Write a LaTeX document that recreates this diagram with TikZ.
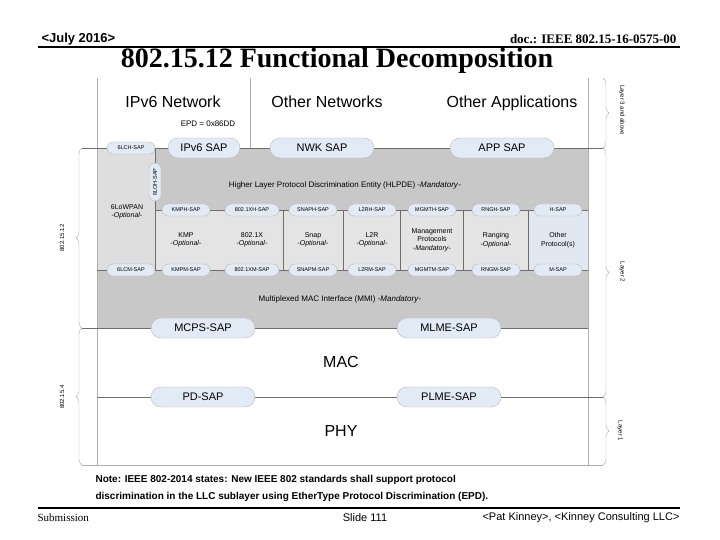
\documentclass[tikz,border=0pt]{standalone}
\usepackage{fontspec}
\setmainfont{Liberation Serif}
\setsansfont{Liberation Sans}
\usetikzlibrary{shapes.misc,decorations.pathreplacing,positioning}
\definecolor{layergray}{RGB}{200,200,200}
\definecolor{boxgray}{RGB}{228,228,228}
\definecolor{lowgray}{RGB}{222,222,222}
\definecolor{otherblue}{RGB}{226,232,242}
\definecolor{sapblue}{RGB}{226,234,245}
\definecolor{linegray}{RGB}{110,110,110}
\definecolor{framegray}{RGB}{175,175,175}

\begin{document}
\begin{tikzpicture}[x=1pt, y=-1pt,
    sap/.style={rounded rectangle, draw=gray!55, fill=sapblue, minimum width=104pt, minimum height=20pt, inner sep=0pt, font=\sffamily\fontsize{11}{12}\selectfont},
    ssap/.style={rounded rectangle, draw=gray!55, fill=sapblue, minimum width=48pt, minimum height=12pt, inner sep=0pt, font=\sffamily\fontsize{5.5}{6}\selectfont},
    layer/.style={anchor=base, font=\sffamily\fontsize{16}{18}\selectfont},
    proto/.style={align=center, font=\sffamily\fontsize{7}{8.5}\selectfont},
    sidel/.style={rotate=90, font=\sffamily\fontsize{6}{7}\selectfont},
    sider/.style={rotate=-90, font=\sffamily\fontsize{6}{7}\selectfont},
    brc/.style={draw=framegray, decorate, decoration={brace, amplitude=6pt}},
    sep/.style={draw=linegray, line width=0.6pt}
]
\useasboundingbox[fill=white] (0,0) rectangle (720,540);

% Header
\node[anchor=base west, font=\sffamily\bfseries\fontsize{13}{15}\selectfont] (date) at (38,43) {<July 2016>};
\node[anchor=base east, font=\bfseries\fontsize{13}{15}\selectfont] (doc) at (680,44) {doc.: IEEE 802.15-16-0575-00};
\draw[line width=2pt] (38,47) -- (680,47);
\node[anchor=base, font=\bfseries\fontsize{28}{30}\selectfont] (title) at (337,68) {802.15.12 Functional Decomposition};

% Backgrounds
\fill[layergray] (97,148) rectangle (588,328);
\fill[lowgray] (97,148) rectangle (155,270);
\fill[boxgray] (155,210) rectangle (528,270);
\fill[otherblue] (528,210) rectangle (588,270);

% Frame
\draw[framegray] (97,78) -- (97,465) -- (588,465) -- (588,78);
\draw[framegray] (250,78) -- (250,148);
\draw[framegray] (82,465) -- (97,465);
\draw[framegray] (588,465) -- (603,465);

% Layer boundaries
\draw[sep] (82,148) -- (603,148);
\draw[sep] (82,328) -- (588,328);
\draw[sep] (97,397) -- (603,397);
\draw[sep] (155,210) -- (588,210);
\draw[sep] (97,270) -- (588,270);
\draw[sep] (155,148) -- (155,270);
\foreach \x in {283,343,400,463,528}
    \draw[sep] (\x,210) -- (\x,270);

% Upper layers
\node[layer] (ipv6) at (173,108) {IPv6 Network};
\node[layer] (othnwk) at (327,108) {Other Networks};
\node[layer] (othapp) at (512,108) {Other Applications};
\node[font=\sffamily\fontsize{8}{9}\selectfont] (epd) at (208,124) {EPD = 0x86DD};

\node[ssap] (lch) at (131,148) {6LCH-SAP};
\node[sap, minimum width=72pt] (ipsap) at (204,148) {IPv6 SAP};
\node[sap] (nwksap) at (322,148) {NWK SAP};
\node[sap] (appsap) at (502,148) {APP SAP};
\node[ssap, minimum width=38pt, rotate=90] (loh) at (155,182) {6LOH-SAP};

% HLPDE
\node[proto, font=\sffamily\fontsize{8}{9}\selectfont] (hlpde) at (345,185) {Higher Layer Protocol Discrimination Entity (HLPDE) -\textit{Mandatory}-};
\node[proto] (lowpan) at (127,212) {6LoWPAN\\-\textit{Optional}-};

\node[proto] (kmp) at (186,240) {KMP\\-\textit{Optional}-};
\node[proto] (dot1x) at (252,240) {802.1X\\-\textit{Optional}-};
\node[proto] (snap) at (313,240) {Snap\\-\textit{Optional}-};
\node[proto] (ltr) at (372,240) {L2R\\-\textit{Optional}-};
\node[proto] (mgmt) at (432,240) {Management\\Protocols\\-\textit{Mandatory}-};
\node[proto] (rng) at (496,240) {Ranging\\-\textit{Optional}-};
\node[proto] (other) at (558,240) {Other\\Protocol(s)};

% Inner SAPs
\node[ssap] (kmph) at (186,210) {KMPH-SAP};
\node[ssap, minimum width=54pt] (dot1xh) at (252,210) {802.1XH-SAP};
\node[ssap] (snaph) at (313,210) {SNAPH-SAP};
\node[ssap] (ltrh) at (372,210) {L2RH-SAP};
\node[ssap] (mgmth) at (432,210) {MGMTH-SAP};
\node[ssap] (rngh) at (496,210) {RNGH-SAP};
\node[ssap] (hsap) at (558,210) {H-SAP};

\node[ssap] (lcm) at (131,270) {6LCM-SAP};
\node[ssap] (kmpm) at (186,270) {KMPM-SAP};
\node[ssap, minimum width=54pt] (dot1xm) at (252,270) {802.1XM-SAP};
\node[ssap] (snapm) at (313,270) {SNAPM-SAP};
\node[ssap] (ltrm) at (372,270) {L2RM-SAP};
\node[ssap] (mgmtm) at (432,270) {MGMTM-SAP};
\node[ssap] (rngm) at (496,270) {RNGM-SAP};
\node[ssap] (msap) at (558,270) {M-SAP};

% MMI
\node[proto, font=\sffamily\fontsize{8}{9}\selectfont] (mmi) at (340,299) {Multiplexed MAC Interface (MMI) -\textit{Mandatory}-};

% MAC and PHY
\node[sap] (mcps) at (203,328) {MCPS-SAP};
\node[sap] (mlme) at (449,328) {MLME-SAP};
\node[layer, anchor=center] (mac) at (341,362) {MAC};
\node[sap] (pd) at (203,397) {PD-SAP};
\node[sap] (plme) at (449,397) {PLME-SAP};
\node[layer, anchor=center] (phy) at (341,431) {PHY};

% Braces
\draw[brc] (82,328) -- (82,148);
\draw[brc] (82,465) -- (82,328);
\node[sidel] (std12) at (62,238) {802.15.12};
\node[sidel] (std4) at (62,397) {802.15.4};
\draw[brc] (603,78) -- (603,148);
\draw[brc] (603,148) -- (603,397);
\draw[brc] (603,397) -- (603,465);
\node[sider] (lay3) at (622,110) {Layer 3 and above};
\node[sider] (lay2) at (622,272) {Layer 2};
\node[sider] (lay1) at (620,431) {Layer 1};

% Note
\node[anchor=west, align=left, font=\sffamily\bfseries\fontsize{10}{17}\selectfont] (note) at (92,488.5) {Note: IEEE 802-2014 states: New IEEE 802 standards shall support protocol\\discrimination in the LLC sublayer using EtherType Protocol Discrimination (EPD).};

% Footer
\draw[line width=2pt] (38,508) -- (680,508);
\node[anchor=west, font=\fontsize{11}{13}\selectfont] (sub) at (34,518) {Submission};
\node[font=\sffamily\fontsize{11}{13}\selectfont] (slide) at (365,518) {Slide 111};
\node[anchor=east, font=\sffamily\fontsize{11}{13}\selectfont] (author) at (683,518) {<Pat Kinney>, <Kinney Consulting LLC>};

\end{tikzpicture}
\end{document}
